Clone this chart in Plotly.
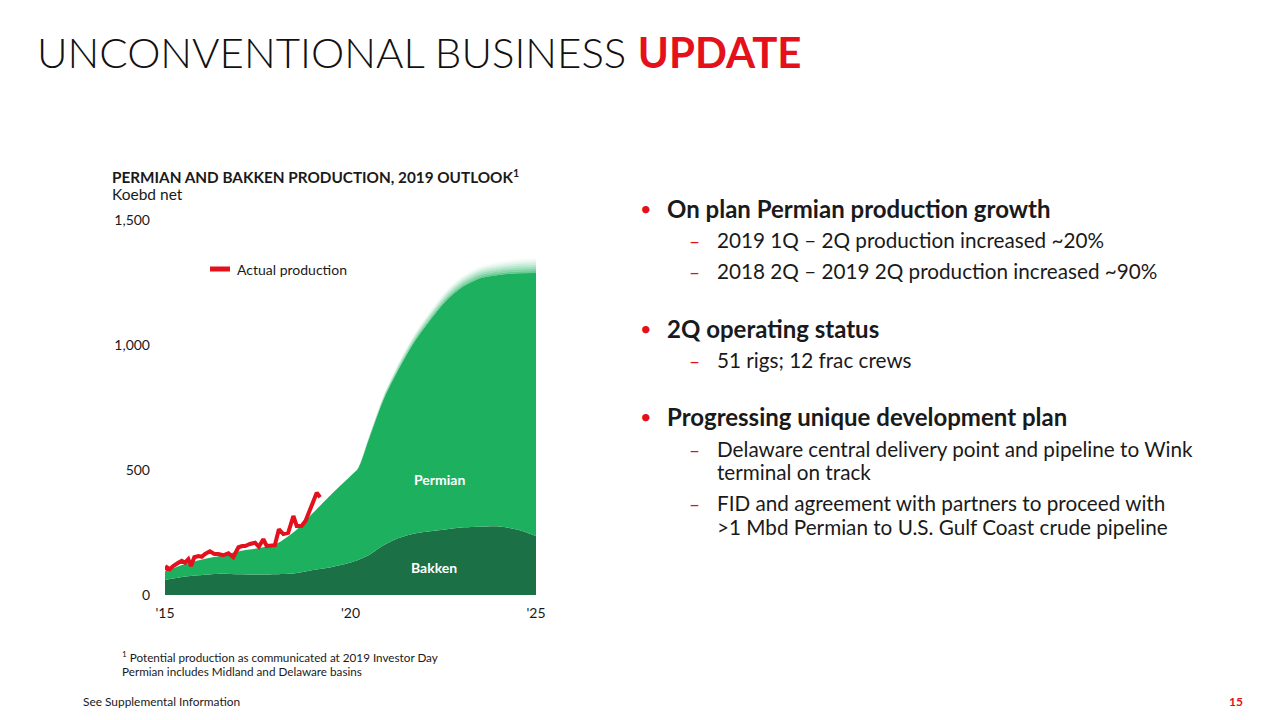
import plotly.graph_objects as go

# ---------------- data ----------------
years = [2015, 2015.5, 2016, 2016.5, 2017, 2017.5, 2018, 2018.5, 2019, 2019.5, 2020,
         2020.2, 2020.5, 2020.9, 2021.25, 2021.7, 2022.15, 2022.6, 2023, 2023.5, 2024, 2024.5, 2025]
bakken = [60, 73, 80, 85, 83, 82, 83, 87, 100, 112, 130,
          140, 160, 200, 225, 245, 255, 263, 270, 273, 274, 262, 236]
permian = [35, 49, 62, 72, 92, 105, 122, 168, 230, 293, 346,
           365, 465, 585, 665, 762, 845, 917, 960, 994, 1006, 1025, 1052]
# soft (blurred) top edge of the outlook area, style only
edge_fade = [0, 0, 0, 0, 0, 0, 0, 0, 0, 0, 0,
             4, 12, 20, 28, 35, 40, 45, 48, 52, 56, 60, 64]

actual_years = [2015.0, 2015.05, 2015.13, 2015.22, 2015.36, 2015.45, 2015.54, 2015.63, 2015.70,
                2015.79, 2015.90, 2015.99, 2016.08, 2016.21, 2016.33, 2016.44, 2016.57, 2016.71,
                2016.84, 2016.98, 2017.08, 2017.16, 2017.29, 2017.43, 2017.53, 2017.65, 2017.74,
                2017.88, 2017.96, 2018.07, 2018.19, 2018.32, 2018.46, 2018.55, 2018.68, 2018.79,
                2018.88, 2018.97, 2019.09, 2019.18]
actual = [100, 111, 103, 116, 129, 137, 129, 143, 116,
          151, 156, 153, 164, 175, 164, 164, 159, 167,
          151, 191, 196, 196, 204, 209, 193, 223, 196,
          200, 199, 263, 244, 249, 316, 276, 276, 297,
          333, 367, 409, 391]

x_ticks = [2015, 2020, 2025]
x_ticktext = ["'15", "'20", "'25"]
y_ticks = [0, 500, 1000, 1500]
y_ticktext = ["0", "500", "1,000", "1,500"]

bullets = [
    ("b", "On plan Permian production growth", 208),
    ("s", "2019 1Q – 2Q production increased ~20%", 240),
    ("s", "2018 2Q – 2019 2Q production increased ~90%", 271),
    ("b", "2Q operating status", 328),
    ("s", "51 rigs; 12 frac crews", 360),
    ("b", "Progressing unique development plan", 416),
    ("s", "Delaware central delivery point and pipeline to Wink", 449),
    ("c", "terminal on track", 472),
    ("s", "FID and agreement with partners to proceed with", 503),
    ("c", ">1 Mbd Permian to U.S. Gulf Coast crude pipeline", 527),
]

# ---------------- style ----------------
RED = "#e4101b"
LIGHT = "#1db05e"
DARK = "#1b7045"
FONT = "Lato"
W, H = 1280, 720
OFF = 8  # page body margin
L, R, T, B = 165, 536, 220, 595

def px(x):
    return (x - L) / (R - L)

def py(y):
    return (B - y) / (B - T)

fig = go.Figure()
fig.add_trace(go.Scatter(x=years, y=bakken, stackgroup="a", mode="lines",
                         line=dict(width=0, shape="spline", smoothing=0.8),
                         fillcolor=DARK, hoverinfo="skip", showlegend=False))
fig.add_trace(go.Scatter(x=years, y=permian, stackgroup="a", mode="lines",
                         line=dict(width=0, shape="spline", smoothing=0.8),
                         fillcolor=LIGHT, hoverinfo="skip", showlegend=False))
n_fade = 8
for i in range(n_fade):
    a = 0.75 * (1 - (i + 0.5) / n_fade) ** 1.5
    fig.add_trace(go.Scatter(x=years, y=[v / n_fade for v in edge_fade], stackgroup="a", mode="lines",
                             line=dict(width=0, shape="spline", smoothing=0.8),
                             fillcolor=f"rgba(29,176,94,{a:.3f})", hoverinfo="skip", showlegend=False))
fig.add_trace(go.Scatter(x=actual_years, y=actual, mode="lines",
                         line=dict(color=RED, width=4), name="Actual production",
                         showlegend=False))

ann = []
def text(x, y, s, size, color="#1a1a1a", weight=None, anchor="left"):
    f = dict(family=FONT, size=size, color=color)
    if weight:
        f["weight"] = weight
    ann.append(dict(x=px(x), y=py(y), xref="paper", yref="paper", text=s, showarrow=False,
                    xanchor=anchor, yanchor="middle", font=f, align="left"))

# title
text(35, 52, "UNCONVENTIONAL BUSINESS <span style='color:%s'><b>UPDATE</b></span>" % RED,
     42, color="#111111", weight=300)
# chart heading
text(110, 176, "<b>PERMIAN AND BAKKEN PRODUCTION, 2019 OUTLOOK<sup>1</sup></b>", 15.3)
text(110, 194, "Koebd net", 15.5)
# legend
text(235, 269, "Actual production", 14)
# series labels
ann.append(dict(x=2022.4, y=464, text="<b>Permian</b>", showarrow=False,
                font=dict(family=FONT, size=14, color="white")))
ann.append(dict(x=2022.25, y=112, text="<b>Bakken</b>", showarrow=False,
                font=dict(family=FONT, size=14, color="white")))
# bullets
for kind, s, y in bullets:
    if kind == "b":
        text(638, y, "•", 20, color=RED)
        text(665, y, "<b>%s</b>" % s, 24)
    elif kind == "s":
        text(687, y, "–", 19, color=RED)
        text(715, y, s, 20.7)
    else:
        text(715, y, s, 20.7)
# footnotes
text(120, 656, "<sup>1</sup> Potential production as communicated at 2019 Investor Day", 11.7)
text(120, 671, "Permian includes Midland and Delaware basins", 11.7)
text(81, 701, "See Supplemental Information", 11.9)
text(1236, 701, "<b>15</b>", 12, color=RED, anchor="center")

fig.update_layout(
    width=W, height=H,
    margin=dict(l=L - OFF, r=W - (R - OFF), t=T - OFF, b=H - (B - OFF), pad=0),
    paper_bgcolor="white", plot_bgcolor="white",
    font=dict(family=FONT, size=14, color="#1a1a1a"),
    annotations=ann,
    shapes=[dict(type="line", xref="paper", yref="paper", x0=px(210), x1=px(230),
                 y0=py(269), y1=py(269), line=dict(color=RED, width=5))],
    xaxis=dict(range=[2015, 2025], tickvals=x_ticks, ticktext=x_ticktext, showgrid=False,
               zeroline=False, showline=False, ticks="", ticklabelstandoff=8,
               tickfont=dict(family=FONT, size=14, color="#1a1a1a")),
    yaxis=dict(range=[0, 1500], tickvals=y_ticks, ticktext=y_ticktext, showgrid=False,
               zeroline=False, showline=False, ticks="", ticklabelstandoff=14,
               tickfont=dict(family=FONT, size=14, color="#1a1a1a")),
    hovermode=False,
)

fig.write_html("out.html")
